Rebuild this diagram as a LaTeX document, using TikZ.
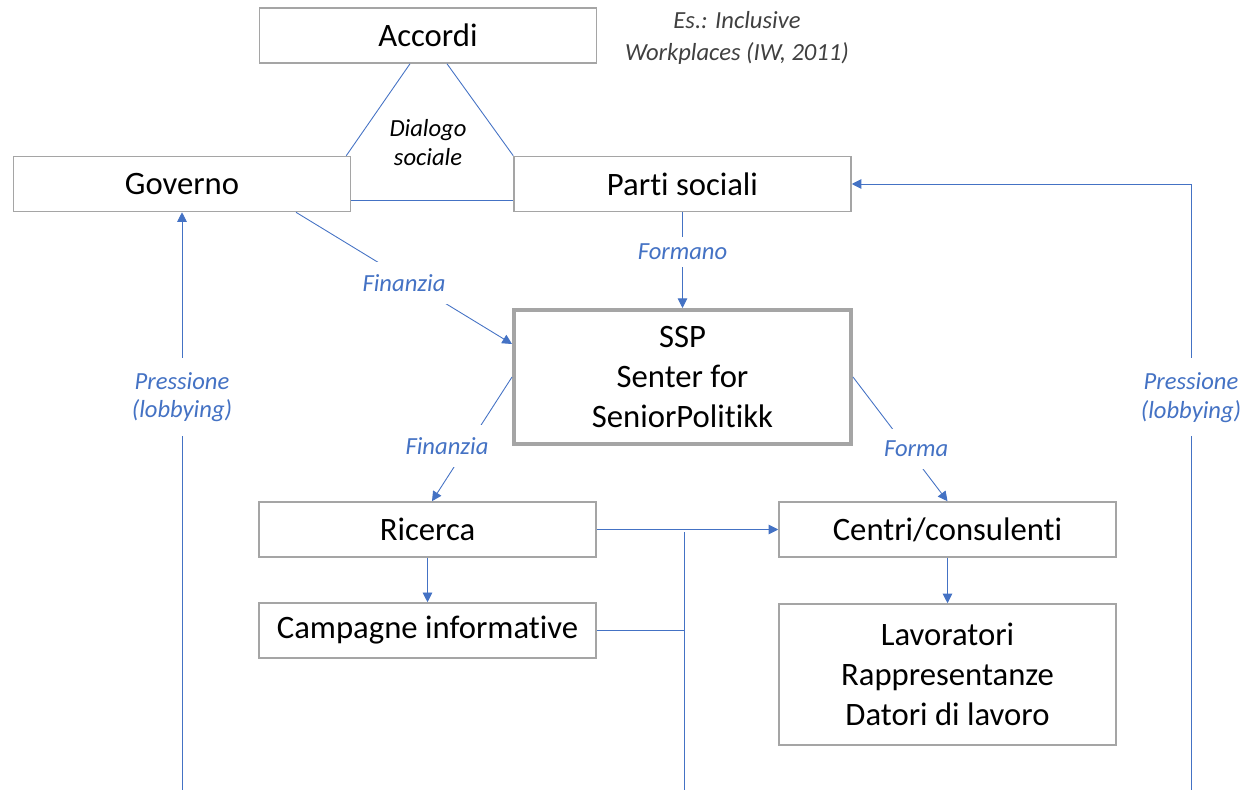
\documentclass[tikz,border=0pt]{standalone}
\usepackage{fontspec}
\setmainfont{Carlito}[Ligatures=NoCommon]
\usetikzlibrary{arrows.meta}
\definecolor{linkblue}{HTML}{4472C4}
\definecolor{boxgray}{HTML}{A5A5A5}
\definecolor{notegray}{HTML}{404040}

\begin{document}
\begin{tikzpicture}[x=0.02cm,y=-0.02cm,
    box/.style={draw=boxgray, line width=0.9pt, minimum width=6.74cm, minimum height=1.1cm,
      align=center, font=\fontsize{18.6}{22.7}\selectfont},
    link/.style={draw=linkblue, line width=0.5pt},
    arr/.style={link, -{Triangle[length=5.5pt,width=5.5pt]}},
    lbl/.style={fill=white, text=linkblue, inner sep=7pt, align=center,
      font=\fontsize{14}{16.4}\selectfont\itshape}]
  \useasboundingbox (0,0) rectangle (1254,790);

  \node[box] (accordi) at (428,35.5) {Accordi};
  \node[box] (gov) at (182,184) {Governo};
  \node[box] (parti) at (682.5,184) {Parti sociali};
  \node[box, line width=2.3pt, minimum height=2.68cm] (ssp) at (682.5,377) {SSP\\Senter for\\SeniorPolitikk};
  \node[box] (ricerca) at (427.5,529.5) {Ricerca};
  \node[box] (campagne) at (427.5,630.5) {Campagne informative};
  \node[box] (centri) at (947.5,529.5) {Centri/consulenti};
  \node[box, minimum height=2.82cm] (lav) at (947.5,674.5) {Lavoratori\\Rappresentanze\\Datori di lavoro};

  \node[text=notegray, align=center, font=\fontsize{14}{18.1}\selectfont\itshape] (nota) at (737,38) {Es.: Inclusive\\Workplaces (IW, 2011)};
  \node[align=center, font=\fontsize{14}{16.4}\selectfont\itshape] (dialogo) at (428,142.5) {Dialogo\\sociale};

  % dialogo sociale
  \draw[link] ([xshift=-0.36cm]accordi.south) -- ([xshift=-0.1cm]gov.north east);
  \draw[link] ([xshift=0.38cm]accordi.south) -- (parti.north west);
  \draw[link] ([yshift=-0.32cm]gov.east) -- ([yshift=-0.32cm]parti.west);

  \draw[arr] ([xshift=2.28cm]gov.south) -- node[lbl, yshift=-0.1cm] {Finanzia} ([yshift=0.66cm]ssp.west);
  \draw[arr] (parti.south) -- node[lbl, pos=0.41, inner sep=4pt] {Formano} (ssp.north);
  \draw[arr] (ssp.west) -- node[lbl, xshift=-0.5cm, yshift=-0.14cm] {Finanzia} ([xshift=0.09cm]ricerca.north);
  \draw[arr] (ssp.east) -- node[lbl, xshift=0.32cm, yshift=-0.2cm] {Forma} (centri.north);

  \draw[arr] (ricerca.south) -- (campagne.north);
  \draw[arr] (centri.south) -- (lav.north);
  \draw[arr] (ricerca.east) -- (centri.west);

  % linee dal basso
  \coordinate (sbot) at (684,790);
  \coordinate (stop) at (684,532);
  \coordinate (gbot) at (182,790);
  \coordinate (pbot) at (1191,790);
  \draw[link] (stop) -- (sbot);
  \draw[link] (campagne.east) -- (campagne.east -| sbot);
  \draw[arr] (gbot) -- node[lbl, pos=0.68, inner sep=8pt] {Pressione\\(lobbying)} (gov.south);
  \draw[arr] (pbot) |- node[lbl, pos=0.324, inner sep=8pt] {Pressione\\(lobbying)} (parti.east);
\end{tikzpicture}
\end{document}
